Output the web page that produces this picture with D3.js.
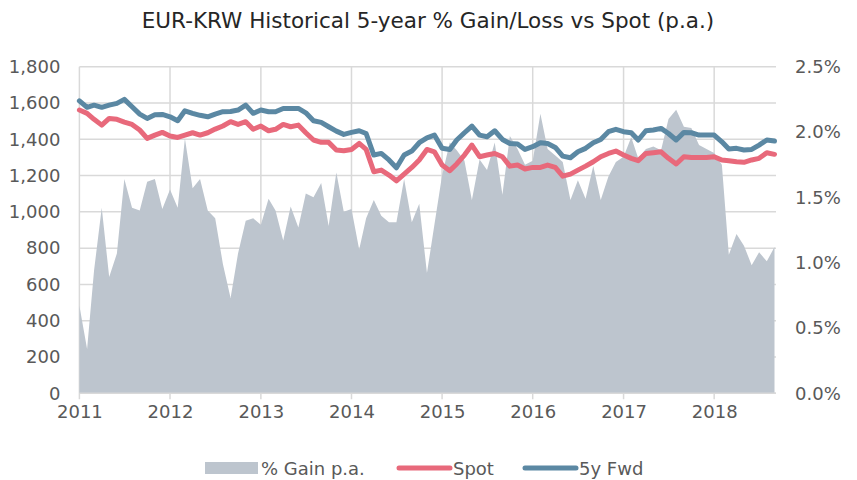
<!DOCTYPE html>
<html>
<head>
<meta charset="utf-8">
<script src="https://cdn.jsdelivr.net/npm/d3@7"></script>
<style>
  body { margin: 0; background: #fff; }
  svg { font-family: "DejaVu Sans", sans-serif; }
</style>
</head>
<body>
<script>
// months Jan 2011 .. Sep 2018
let months = d3.timeMonth.range(new Date(2011, 0, 1), new Date(2018, 9, 1))

let gainPct = [
  0.67, 0.34, 0.94, 1.42, 0.89, 1.07, 1.64, 1.42, 1.40, 1.62, 1.64, 1.41,
  1.56, 1.42, 1.95, 1.57, 1.64, 1.40, 1.34, 0.99, 0.73, 1.07, 1.32, 1.34,
  1.29, 1.49, 1.40, 1.17, 1.43, 1.27, 1.53, 1.50, 1.61, 1.28, 1.69, 1.39,
  1.41, 1.10, 1.34, 1.48, 1.36, 1.31, 1.31, 1.64, 1.31, 1.45, 0.92, 1.29,
  1.67, 1.92, 1.86, 1.78, 1.48, 1.79, 1.71, 1.92, 1.52, 1.97, 1.87, 1.75,
  1.78, 2.14, 1.87, 1.82, 1.77, 1.48, 1.63, 1.49, 1.74, 1.48, 1.66, 1.77,
  1.81, 1.96, 1.80, 1.87, 1.89, 1.86, 2.10, 2.17, 2.04, 2.03, 1.90, 1.87,
  1.84, 1.75, 1.06, 1.22, 1.13, 0.98, 1.08, 1.01, 1.12
]

let spot = [
  1561, 1543, 1510, 1478, 1515, 1510, 1495, 1482, 1451, 1405, 1423, 1438,
  1418, 1410, 1423, 1436, 1423, 1436, 1456, 1473, 1497, 1482, 1497, 1455,
  1473, 1447, 1455, 1482, 1469, 1478, 1436, 1396, 1383, 1383, 1341, 1337,
  1344, 1377, 1344, 1221, 1230, 1203, 1171, 1208, 1245, 1286, 1344, 1331,
  1258, 1227, 1264, 1313, 1368, 1304, 1313, 1322, 1304, 1252, 1258, 1236,
  1245, 1245, 1258, 1245, 1197, 1208, 1230, 1252, 1276, 1304, 1322, 1335,
  1313, 1295, 1282, 1322, 1326, 1331, 1295, 1264, 1304, 1300, 1299, 1300,
  1304, 1286, 1282, 1276, 1273, 1286, 1295, 1326, 1317
]

let fwd5y = [
  1612, 1576, 1588, 1576, 1588, 1598, 1620, 1579, 1539, 1515, 1535, 1537,
  1524, 1502, 1557, 1543, 1532, 1524, 1539, 1552, 1553, 1561, 1588, 1543,
  1561, 1552, 1552, 1570, 1570, 1570, 1546, 1502, 1493, 1469, 1445, 1427,
  1438, 1447, 1432, 1313, 1322, 1286, 1243, 1313, 1335, 1381, 1408, 1423,
  1350, 1344, 1396, 1436, 1473, 1423, 1414, 1447, 1399, 1377, 1374, 1344,
  1359, 1381, 1377, 1355, 1307, 1298, 1331, 1350, 1381, 1399, 1442, 1455,
  1442, 1436, 1396, 1447, 1451, 1460, 1432, 1396, 1438, 1436, 1423, 1423,
  1423, 1386, 1346, 1350, 1341, 1344, 1368, 1396, 1390
]

let leftTicks = [0, 200, 400, 600, 800, 1000, 1200, 1400, 1600, 1800]
let rightTicks = [0, 0.5, 1.0, 1.5, 2.0, 2.5]
let yearTicks = d3.range(2011, 2019).map(y => new Date(y, 0, 1))

let title = "EUR-KRW Historical 5-year % Gain/Loss vs Spot (p.a.)"
let legendItems = [
  {label: "% Gain p.a.", type: "area", color: "#bdc5ce"},
  {label: "Spot", type: "line", color: "#e8697b"},
  {label: "5y Fwd", type: "line", color: "#5b88a3"}
]

let w = 857, h = 480
let pLeft = 79.4, pRight = 775, pTop = 66.7, pBottom = 393.3
let textColor = "#595959"
let gridColor = "#d9d9d9"
let fontSize = 18

let svg = d3.select("body").append("svg")
  .attr("width", w)
  .attr("height", h)

let x = d3.scaleTime()
  .domain([months[0], months[months.length - 1]])
  .range([pLeft, pRight - 0.5])
let yL = d3.scaleLinear().domain([0, 1800]).range([pBottom, pTop])
let yR = d3.scaleLinear().domain([0, 2.5]).range([pBottom, pTop])

// title
svg.append("text")
  .attr("x", 428)
  .attr("y", 28)
  .attr("text-anchor", "middle")
  .attr("font-size", 21.5)
  .attr("fill", "#262626")
  .text(title)

// grid
svg.append("g").selectAll("line")
  .data(leftTicks)
  .enter().append("line")
  .attr("x1", pLeft).attr("x2", pRight + 1)
  .attr("y1", d => yL(d)).attr("y2", d => yL(d))
  .attr("stroke", gridColor).attr("stroke-width", 1.5)
svg.append("g").selectAll("line")
  .data(yearTicks)
  .enter().append("line")
  .attr("x1", d => x(d)).attr("x2", d => x(d))
  .attr("y1", pTop).attr("y2", pBottom + 6)
  .attr("stroke", gridColor).attr("stroke-width", 1.5)

// area
let area = d3.area()
  .x((d, i) => x(months[i]))
  .y0(yR(0))
  .y1(d => yR(d))
svg.append("path")
  .datum(gainPct)
  .attr("d", area)
  .attr("fill", legendItems[0].color)

// bottom axis line
svg.append("line")
  .attr("x1", pLeft).attr("x2", pRight + 1)
  .attr("y1", pBottom).attr("y2", pBottom)
  .attr("stroke", gridColor).attr("stroke-width", 1.5)

// lines
let line = d3.line()
  .x((d, i) => x(months[i]))
  .y(d => yL(d))
svg.append("path")
  .datum(spot)
  .attr("d", line)
  .attr("fill", "none")
  .attr("stroke", legendItems[1].color)
  .attr("stroke-width", 5)
  .attr("stroke-linejoin", "round")
  .attr("stroke-linecap", "round")
svg.append("path")
  .datum(fwd5y)
  .attr("d", line)
  .attr("fill", "none")
  .attr("stroke", legendItems[2].color)
  .attr("stroke-width", 5)
  .attr("stroke-linejoin", "round")
  .attr("stroke-linecap", "round")

// axes
let leftAxis = d3.axisLeft(yL).tickValues(leftTicks).tickFormat(d3.format(",")).tickSize(0).tickPadding(19)
let rightAxis = d3.axisRight(yR).tickValues(rightTicks).tickFormat(d => d.toFixed(1) + "%").tickSize(0).tickPadding(20)
let bottomAxis = d3.axisBottom(x).tickValues(yearTicks).tickFormat(d3.timeFormat("%Y")).tickSize(0).tickPadding(12)

let gl = svg.append("g").attr("transform", `translate(${pLeft},0)`).call(leftAxis)
let gr = svg.append("g").attr("transform", `translate(${pRight},0)`).call(rightAxis)
let gb = svg.append("g").attr("transform", `translate(0,${pBottom})`).call(bottomAxis)
;[gl, gr, gb].forEach(g => {
  g.select(".domain").remove()
  g.selectAll("text").attr("font-size", fontSize).attr("fill", textColor).attr("font-family", "DejaVu Sans")
})

// legend
let legendX = [205, 397, 523]
let lg = svg.append("g")
legendItems.forEach((item, i) => {
  let g = lg.append("g").attr("transform", `translate(${legendX[i]},468)`)
  if (item.type == "area") {
    g.append("rect").attr("x", 0).attr("y", -6).attr("width", 53).attr("height", 12).attr("fill", item.color)
  } else {
    g.append("line").attr("x1", 2).attr("x2", 53).attr("y1", 0).attr("y2", 0)
      .attr("stroke", item.color).attr("stroke-width", 5).attr("stroke-linecap", "round")
  }
  g.append("text")
    .attr("x", 56)
    .attr("y", 6.5)
    .attr("font-size", fontSize)
    .attr("fill", textColor)
    .text(item.label)
})
</script>
</body>
</html>
